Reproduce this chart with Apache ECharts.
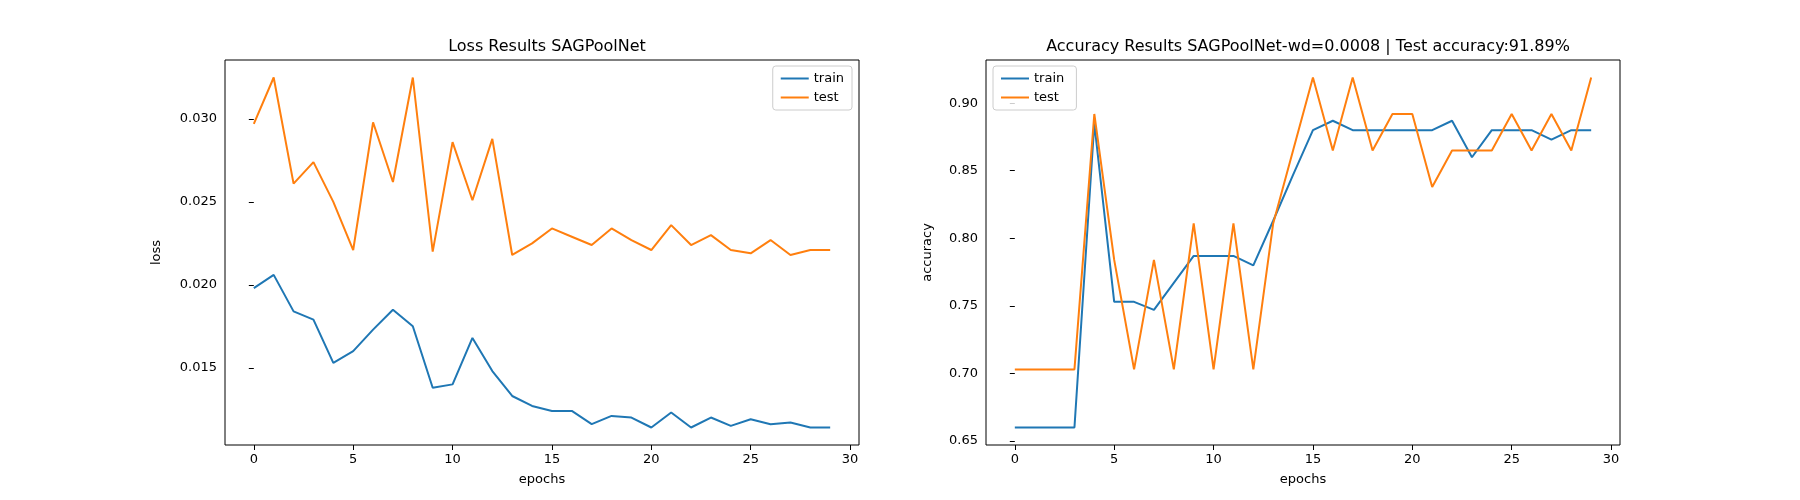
<!DOCTYPE html>
<html>
<head>
<meta charset="utf-8">
<script src="https://cdn.jsdelivr.net/npm/echarts@6/dist/echarts.min.js"></script>
<style>
  html, body { margin: 0; background: #fff; }
  #chart { width: 1800px; height: 500px; }
</style>
</head>
<body>
<div id="chart"></div>
<script>
const epochs = Array.from({ length: 30 }, (_, i) => i);
const trainLoss = [0.0198, 0.0206, 0.0184, 0.0179, 0.0153, 0.0160, 0.0173, 0.0185, 0.0175, 0.0138,
  0.0140, 0.0168, 0.0148, 0.0133, 0.0127, 0.0124, 0.0124, 0.0116, 0.0121, 0.0120,
  0.0114, 0.0123, 0.0114, 0.0120, 0.0115, 0.0119, 0.0116, 0.0117, 0.0114, 0.0114];
const testLoss = [0.0297, 0.0325, 0.0261, 0.0274, 0.0250, 0.0221, 0.0298, 0.0262, 0.0325, 0.0220,
  0.0286, 0.0251, 0.0288, 0.0218, 0.0225, 0.0234, 0.0229, 0.0224, 0.0234, 0.0227,
  0.0221, 0.0236, 0.0224, 0.0230, 0.0221, 0.0219, 0.0227, 0.0218, 0.0221, 0.0221];
const trainAcc = [0.660, 0.660, 0.660, 0.660, 0.885, 0.753, 0.753, 0.747, 0.767, 0.787,
  0.787, 0.787, 0.780, 0.813, 0.847, 0.880, 0.887, 0.880, 0.880, 0.880,
  0.880, 0.880, 0.887, 0.860, 0.880, 0.880, 0.880, 0.873, 0.880, 0.880];
const testAcc = [0.703, 0.703, 0.703, 0.703, 0.892, 0.784, 0.703, 0.784, 0.703, 0.811,
  0.703, 0.811, 0.703, 0.811, 0.865, 0.919, 0.865, 0.919, 0.865, 0.892,
  0.892, 0.838, 0.865, 0.865, 0.865, 0.892, 0.865, 0.892, 0.865, 0.919];
const xTicks = [0, 5, 10, 15, 20, 25, 30];
const lossTicks = [0.015, 0.020, 0.025, 0.030];
const accTicks = [0.65, 0.70, 0.75, 0.80, 0.85, 0.90];

const FONT = 'DejaVu Sans';
const pairs = arr => arr.map((v, i) => [epochs[i], v]);
const pad = (arr1, arr2) => {
  const lo = Math.min(...arr1, ...arr2), hi = Math.max(...arr1, ...arr2);
  const m = (hi - lo) * 0.05;
  return [lo - m, hi + m];
};
const lossR = pad(trainLoss, testLoss);
const accR = pad(trainAcc, testAcc);

function xAxis(idx) {
  return {
    type: 'value', gridIndex: idx, min: -1.45, max: 30.45,
    name: 'epochs', nameLocation: 'middle', nameGap: 28,
    nameTextStyle: { color: '#000', fontFamily: FONT, fontSize: 13 },
    axisLine: { show: false }, splitLine: { show: false },
    axisTick: { show: true, inside: false, length: 5, customValues: xTicks, lineStyle: { color: '#000' } },
    axisLabel: { customValues: xTicks, color: '#000', fontFamily: FONT, fontSize: 13, margin: 8 }
  };
}
function yAxis(idx, r, ticks, name, digits) {
  return {
    type: 'value', gridIndex: idx, min: r[0], max: r[1],
    name: name, nameLocation: 'middle', nameGap: digits === 3 ? 62 : 52,
    nameTextStyle: { color: '#000', fontFamily: FONT, fontSize: 13 },
    axisLine: { show: false }, splitLine: { show: false },
    axisTick: { show: true, inside: false, length: 5, customValues: ticks, lineStyle: { color: '#000' } },
    axisLabel: { customValues: ticks, color: '#000', fontFamily: FONT, fontSize: 13, margin: 8,
      formatter: v => v.toFixed(digits) }
  };
}
function line(name, data, color, idx) {
  return { name: name, type: 'line', xAxisIndex: idx, yAxisIndex: idx, data: pairs(data),
    showSymbol: false, lineStyle: { color: color, width: 2 }, itemStyle: { color: color } };
}
const legendBase = {
  orient: 'vertical', itemWidth: 28, itemHeight: 2, itemGap: 6,
  padding: [6, 8], borderColor: '#ccc', borderWidth: 1, borderRadius: 3,
  backgroundColor: 'rgba(255,255,255,0.8)',
  textStyle: { color: '#000', fontFamily: FONT, fontSize: 13 },
  icon: 'rect'
};

const chart = echarts.init(document.getElementById('chart'));
chart.setOption({
  animation: false,
  title: [
    { text: 'Loss Results SAGPoolNet', left: 542, top: 34, textAlign: 'center',
      textStyle: { fontFamily: FONT, fontSize: 16, fontWeight: 'normal', color: '#000' } },
    { text: 'Accuracy Results SAGPoolNet-wd=0.0008 | Test accuracy:91.89%', left: 1303, top: 34, textAlign: 'center',
      textStyle: { fontFamily: FONT, fontSize: 16, fontWeight: 'normal', color: '#000' } }
  ],
  grid: [
    { left: 225, right: 941, top: 60, bottom: 55, show: true, borderColor: '#000', borderWidth: 1 },
    { left: 986, right: 180, top: 60, bottom: 55, show: true, borderColor: '#000', borderWidth: 1 }
  ],
  legend: [
    Object.assign({}, legendBase, { data: ['train', 'test'], right: 1800 - 852, top: 66 }),
    Object.assign({}, legendBase, { data: ['train ', 'test '], left: 993, top: 66 })
  ],
  xAxis: [xAxis(0), xAxis(1)],
  yAxis: [yAxis(0, lossR, lossTicks, 'loss', 3), yAxis(1, accR, accTicks, 'accuracy', 2)],
  series: [
    line('train', trainLoss, '#1f77b4', 0),
    line('test', testLoss, '#ff7f0e', 0),
    line('train ', trainAcc, '#1f77b4', 1),
    line('test ', testAcc, '#ff7f0e', 1)
  ]
});
</script>
</body>
</html>
